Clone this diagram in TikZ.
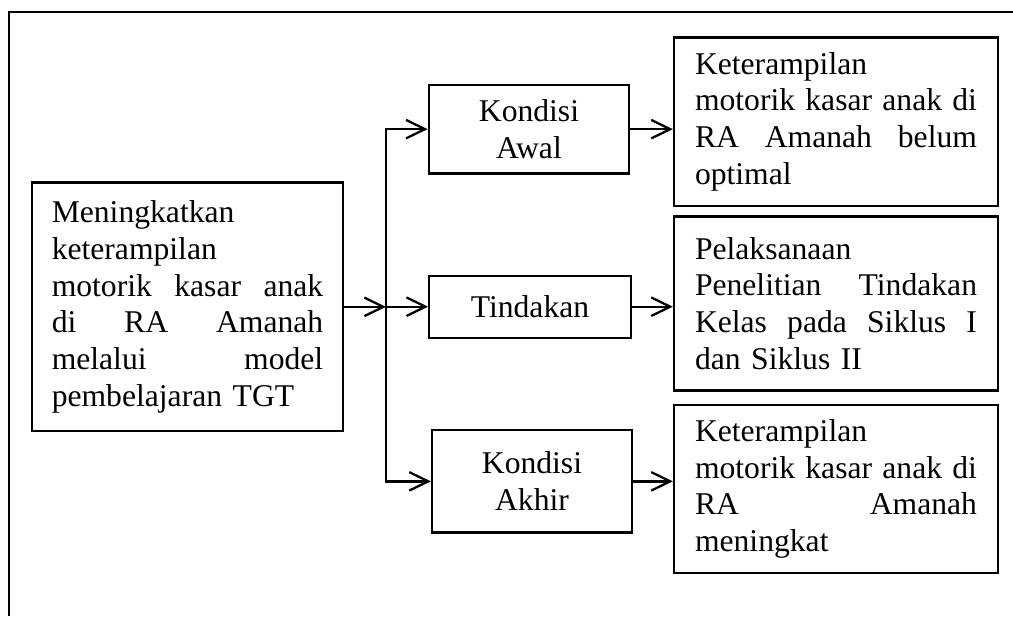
\documentclass[tikz,border=0pt]{standalone}
\usepackage{fontspec}
\setmainfont{Liberation Serif}
\usepackage{tikz}
\usetikzlibrary{positioning,calc,arrows.meta}

\begin{document}
\begin{tikzpicture}[
        every node/.style={font=\fontsize{18}{20.9}\selectfont},
        box/.style={rectangle, draw=black, line width=1.3pt, inner sep=0pt},
        mainbox/.style={box, text width=5.43cm, minimum width=6.23cm, align=left},
        kondbox/.style={box, align=center},
        hasilbox/.style={box, text width=5.64cm, minimum width=6.48cm, align=left},
        arrow/.style={-{Straight Barb[length=3.8mm,width=3.7mm]}, line width=1.3pt, draw=black},
        frame/.style={line width=1.2pt, draw=black}
        ]
        \useasboundingbox (0,0) rectangle (20.26,-12.32);

        % outer frame (only top and left edges are in view)
        \draw[frame] (0.187,-12.32) -- (0.187,-0.233) -- (20.26,-0.233);

        % left: research goal
        \node[mainbox, minimum height=4.97cm] (tujuan) at (3.75,-6.137)
            {Meningkatkan\\
             keterampilan\\
             motorik\hfill kasar\hfill anak\\
             di\hfill RA\hfill Amanah\\
             melalui\hfill model\\
             pembelajaran TGT};

        % middle column
        \node[kondbox, minimum width=4.01cm, minimum height=1.77cm] (awal) at (10.58,-2.583) {Kondisi\\Awal};
        \node[kondbox, minimum width=4.03cm, minimum height=1.24cm] (tindakan) at (10.60,-6.134) {Tindakan};
        \node[kondbox, minimum width=4.0cm, minimum height=2.05cm] (akhir) at (10.64,-9.627) {Kondisi\\Akhir};

        % right column
        \node[hasilbox, minimum height=3.37cm] (hasilawal) at (16.72,-2.433)
            {Keterampilan\\
             motorik\hfill kasar\hfill anak\hfill di\\
             RA\hfill Amanah\hfill belum\\
             optimal};
        \node[hasilbox, minimum height=3.48cm] (pelaksanaan) at (16.72,-6.07)
            {Pelaksanaan\\
             Penelitian\hfill Tindakan\\
             Kelas\hfill pada\hfill Siklus\hfill I\\
             dan Siklus II};
        \node[hasilbox, minimum height=3.37cm] (hasilakhir) at (16.72,-9.78)
            {Keterampilan\\
             motorik\hfill kasar\hfill anak\hfill di\\
             RA\hfill Amanah\\
             meningkat};

        % branching point
        \coordinate (cabang) at (7.72,-6.137);

        \draw[arrow] (tujuan) -- (cabang);
        \draw[arrow] (cabang) |- (awal.west);
        \draw[arrow] (cabang) |- (tindakan.west);
        \draw[arrow] (cabang) |- (akhir.west);

        \draw[arrow] (awal.east) -- (awal.east -| hasilawal.west);
        \draw[arrow] (tindakan.east) -- (tindakan.east -| pelaksanaan.west);
        \draw[arrow] (akhir.east) -- (akhir.east -| hasilakhir.west);

    \end{tikzpicture}
\end{document}
